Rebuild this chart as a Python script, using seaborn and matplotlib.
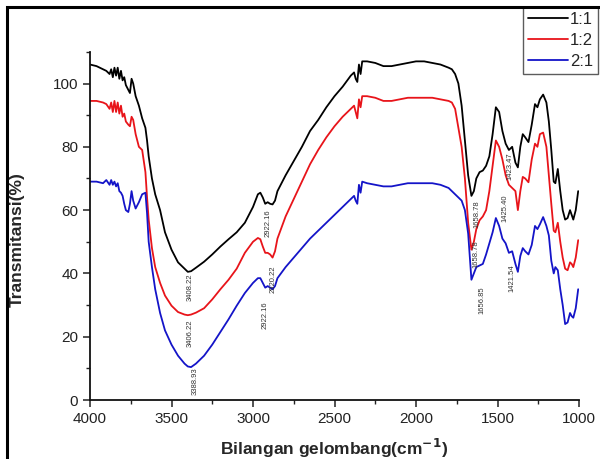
import matplotlib
matplotlib.use("Agg")
import matplotlib.pyplot as plt
import seaborn as sns
import pandas as pd
from matplotlib.patches import Rectangle
from matplotlib.ticker import MultipleLocator

# ---------------- data ----------------
wavenumber = [4000, 3960, 3920, 3900, 3880, 3870, 3860, 3850, 3840, 3830, 3820, 3810, 3800, 3790,
              3780, 3765, 3755, 3745, 3735, 3720, 3700, 3680, 3660, 3650, 3640, 3620, 3600, 3570,
              3540, 3500, 3460, 3420, 3400, 3380, 3350, 3300, 3250, 3200, 3150, 3100, 3050, 3000,
              2970, 2955, 2940, 2925, 2910, 2895, 2880, 2865, 2850, 2800, 2750, 2700, 2650, 2600,
              2550, 2500, 2450, 2400, 2380, 2370, 2360, 2350, 2340, 2330, 2300, 2250, 2200, 2150,
              2100, 2050, 2000, 1950, 1900, 1850, 1800, 1780, 1760, 1740, 1720, 1700, 1680, 1660,
              1645, 1630, 1610, 1590, 1570, 1550, 1530, 1510, 1490, 1470, 1450, 1430, 1410, 1390,
              1375, 1360, 1345, 1330, 1310, 1290, 1270, 1255, 1240, 1220, 1200, 1185, 1170, 1155,
              1145, 1130, 1115, 1100, 1085, 1070, 1055, 1045, 1035, 1020, 1005]

t_11 = [106, 105.5, 104.5, 104, 103, 104.5, 102, 105, 102.5, 105, 101.5, 104, 101, 102,
        99.5, 98, 97, 101.5, 100, 96, 93, 89, 86, 82, 77, 70, 65, 60,
        53, 47.5, 43.5, 41.5, 40.5, 40.7, 41.8, 43.7, 46, 48.5, 50.8, 53, 56, 61,
        65, 65.5, 64, 62, 62.5, 62, 61.8, 63, 66, 71, 75.5, 80, 85, 88.5,
        92.5, 96, 99, 102.5, 103.5, 101.5, 100.5, 106, 103, 107, 107, 106.5, 105.5, 105.5,
        106, 106.5, 107, 107, 106.5, 106, 105, 104.5, 103, 100, 93, 82, 71, 64.5,
        66, 70, 72, 72.5, 74, 77, 84, 92.5, 91, 85, 81, 79, 80, 75,
        73.5, 80, 84, 83, 81.5, 87, 93.5, 92.5, 95, 96.5, 94, 88, 79, 69,
        68.5, 73, 66, 60, 57, 57.5, 60, 58.5, 57, 60, 66]

t_12 = [94.5, 94.5, 94, 93.5, 92, 94, 91, 94.5, 91, 94, 90.5, 93, 89.5, 90.5,
        88, 87, 86.5, 89.5, 88.5, 84, 80, 79, 72, 64, 57, 48, 42, 37,
        33, 29.8, 27.8, 27, 26.8, 27, 27.6, 29, 31.8, 35, 38, 41.5, 46.5, 50,
        51.2, 50.8, 48.5, 46.5, 46.5, 46, 45, 47, 51, 58, 63.5, 69, 74.5, 79,
        83, 86.5, 89.5, 92, 93, 91, 89, 95, 92.5, 96, 96, 95.5, 94.5, 94.5,
        95, 95.5, 95.5, 95.5, 95.5, 95, 94.5, 94, 92, 86, 80, 70, 56, 47.5,
        50, 54, 56.8, 58, 60, 66, 74, 82, 80, 76, 71, 68, 67, 66,
        60, 66, 70.5, 70, 68.8, 76, 81, 80, 84, 84.5, 80, 71, 62, 53.5,
        53, 56, 50, 45, 41.5, 41, 43.5, 43, 42, 45, 50.5]

t_21 = [69, 69, 68.5, 69.5, 68, 69.5, 68, 69, 67.5, 68.5, 66, 65.5, 64.5, 62,
        60, 59.4, 62, 66, 63, 60.5, 62.5, 65, 65.5, 59, 50, 42, 35, 27.5,
        22, 17.5, 14, 11.5, 10.6, 10.4, 11.5, 14, 17.5, 21.5, 25.5, 29.8, 33.8, 37,
        38.5, 38.5, 37, 35.5, 36, 35.5, 35, 36, 38.5, 42, 45, 48, 51, 53.5,
        56, 58.5, 61, 63.5, 64.5, 63, 62, 68, 65.5, 69, 68.5, 68, 67.5, 67.5,
        68, 68.5, 68.5, 68.5, 68.5, 68, 67, 66, 65, 64, 63, 60, 52.6, 38,
        40, 42, 42.5, 43, 46, 49.5, 53, 57.5, 55, 51, 49.5, 46.5, 47, 43,
        40.5, 45.5, 48, 47, 46, 49, 55, 54, 55.5, 57.8, 55, 52, 44, 40,
        42, 41, 35, 30, 24, 24.5, 27.5, 26.5, 26, 29, 35]

series_names = ["1:1", "1:2", "2:1"]
series_colors = ["#000000", "#e8141a", "#1414c8"]

ann_text = ["3408.22", "3406.22", "3388.93", "2922.16", "2920.22", "2922.16",
            "1658.78", "1423.47", "1658.78", "1425.40", "1656.85", "1421.54"]
ann_x = [3387, 3387, 3356, 2908, 2877, 2926, 1626, 1423, 1635, 1454, 1595, 1411]
ann_y = [35.6, 21.0, 6.0, 56.0, 38.0, 26.8, 58.7, 73.8, 46.0, 60.5, 31.5, 38.5]

# ---------------- plot ----------------
sns.set_theme(style="white")
plt.rcParams["font.family"] = ["Liberation Sans", "DejaVu Sans"]

df = pd.concat([
    pd.DataFrame({"wavenumber": wavenumber, "T": vals, "sample": name})
    for name, vals in zip(series_names, [t_11, t_12, t_21])
], ignore_index=True)

fig = plt.figure(figsize=(6.0, 4.59), dpi=100)
ax = fig.add_axes([0.15, 0.1285, 0.815, 0.7585])

sns.lineplot(data=df, x="wavenumber", y="T", hue="sample", hue_order=series_names,
             palette=series_colors, estimator=None, sort=False, linewidth=1.3,
             legend=False, ax=ax)

ax.set_xlim(4000, 1000)
ax.set_ylim(0, 110)
ax.xaxis.set_major_locator(MultipleLocator(500))
ax.xaxis.set_minor_locator(MultipleLocator(250))
ax.yaxis.set_major_locator(MultipleLocator(20))
ax.yaxis.set_minor_locator(MultipleLocator(10))
ax.tick_params(axis="both", which="major", direction="out", length=5, width=1.1,
               colors="#222222", labelsize=11, bottom=True, left=True)
ax.tick_params(axis="both", which="minor", direction="out", length=3, width=1.0,
               color="#222222", bottom=True, left=True)
for s in ["top", "right"]:
    ax.spines[s].set_visible(False)
for s in ["left", "bottom"]:
    ax.spines[s].set_color("#111111")
    ax.spines[s].set_linewidth(1.3)

ax.set_xlabel("Bilangan gelombang(cm$^{\\mathbf{-1}}$)", fontsize=12.5, fontweight="bold",
              labelpad=8)
ax.set_ylabel("")
fig.text(17 / 600, 1 - 240 / 459, "Transmitansi(%)", rotation=90, fontsize=12.5,
         fontweight="bold", ha="center", va="center")

for t, xx, yy in zip(ann_text, ann_x, ann_y):
    ax.text(xx, yy, t, rotation=90, fontsize=5.5, color="#333333",
            ha="center", va="center")

# legend
handles = [plt.Line2D([0], [0], color=c, lw=1.3) for c in series_colors]
leg = fig.legend(handles, series_names, loc="upper left",
                 bbox_to_anchor=(523 / 600, 1 - 7 / 459), fontsize=12,
                 frameon=True, fancybox=False, handlelength=2.4, handletextpad=0.1,
                 borderaxespad=0, borderpad=0.3, labelspacing=0.35)
leg.get_frame().set_edgecolor("#333333")
leg.get_frame().set_linewidth(1.0)

# figure frame (left and top visible)
fig.patches.append(Rectangle((7 / 600, -0.2), 1.5, 1.2 - 7 / 459, transform=fig.transFigure,
                             fill=False, edgecolor="black", linewidth=2.2, zorder=10))

fig.savefig("out.png", dpi=100)
